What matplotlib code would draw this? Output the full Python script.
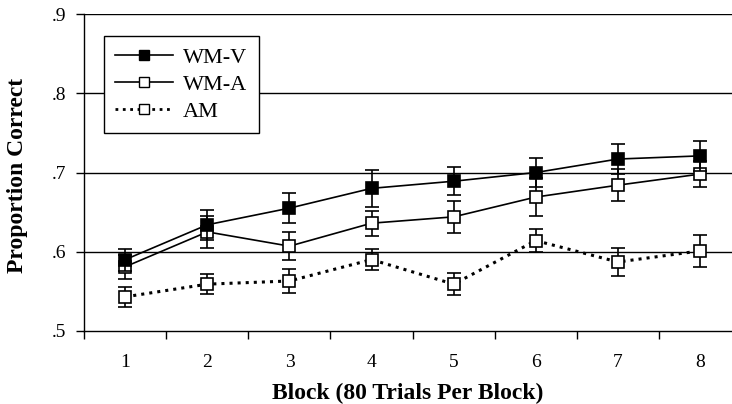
import matplotlib.pyplot as plt
from matplotlib.lines import Line2D
import numpy as np

plt.rcParams['font.family'] = ['Liberation Serif', 'DejaVu Serif']

blocks = [1, 2, 3, 4, 5, 6, 7, 8]
wmv = [0.590, 0.634, 0.655, 0.680, 0.689, 0.700, 0.717, 0.721]
wmv_err = [0.014, 0.019, 0.019, 0.023, 0.018, 0.018, 0.019, 0.019]
wma = [0.581, 0.625, 0.607, 0.636, 0.644, 0.669, 0.684, 0.698]
wma_err = [0.015, 0.020, 0.018, 0.016, 0.020, 0.024, 0.020, 0.016]
am = [0.543, 0.559, 0.563, 0.590, 0.559, 0.614, 0.587, 0.601]
am_err = [0.013, 0.013, 0.015, 0.013, 0.014, 0.015, 0.018, 0.020]

fig = plt.figure(figsize=(7.32, 4.04), dpi=100)
ax = fig.add_axes([0.115, 0.181, 0.885, 0.784])

for yv in [0.6, 0.7, 0.8, 0.9]:
    ax.axhline(yv, color='black', lw=1.0, zorder=0)

common = dict(color='black', lw=1.2, ms=8, marker='s', mec='black', mew=1.2,
              capsize=5, elinewidth=1.2, capthick=1.2, ecolor='black')
ax.errorbar(blocks, wma, yerr=wma_err, ls='-', mfc='white', zorder=3, **common)
ax.errorbar(blocks, am, yerr=am_err, ls=':', mfc='white', zorder=3,
            **{**common, 'lw': 2.2})
ax.errorbar(blocks, wmv, yerr=wmv_err, ls='-', mfc='black', zorder=4, **common)

ax.set_xlim(0.5, 8.39)
ax.set_ylim(0.5, 0.9)
ax.set_yticks([0.5, 0.6, 0.7, 0.8, 0.9])
ax.set_yticklabels(['.5', '.6', '.7', '.8', '.9'])
ax.set_xticks(blocks)
ax.set_xticklabels([str(b) for b in blocks])
ax.set_xticks(np.arange(0.5, 8.5, 1), minor=True)
ax.tick_params(axis='x', which='major', length=0, pad=17, labelsize=14)
ax.tick_params(axis='x', which='minor', length=6, width=1, direction='out')
ax.tick_params(axis='y', length=6, width=1, direction='out', pad=7, labelsize=14)

for s in ['top', 'right']:
    ax.spines[s].set_visible(False)
ax.spines['left'].set_linewidth(1.0)
ax.spines['bottom'].set_linewidth(1.0)

ax.set_xlabel('Block (80 Trials Per Block)', fontsize=17, fontweight='bold', labelpad=8)
ax.set_ylabel('Proportion Correct', fontsize=17, fontweight='bold')
ax.yaxis.set_label_coords(-0.086, 0.49)

handles = [
    Line2D([], [], color='black', lw=1.2, marker='s', ms=7, mfc='black', mec='black'),
    Line2D([], [], color='black', lw=1.2, marker='s', ms=7, mfc='white', mec='black'),
    Line2D([], [], color='black', lw=2.0, ls=':', marker='s', ms=7, mfc='white', mec='black'),
]
leg = ax.legend(handles, ['WM-V', 'WM-A', 'AM'],
                loc='upper left', bbox_to_anchor=(0.031, 0.931), borderaxespad=0,
                fontsize=16, frameon=True, fancybox=False, edgecolor='black',
                framealpha=1, handlelength=2.6, handletextpad=0.45,
                borderpad=0.5, labelspacing=0.3)
leg.get_frame().set_linewidth(1.0)

fig.savefig('out.png', dpi=100)
